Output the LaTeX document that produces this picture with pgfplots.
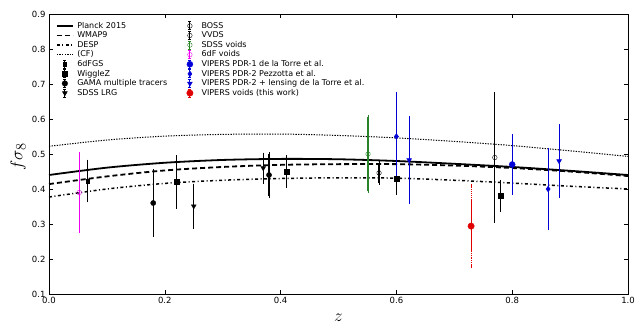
\documentclass[border=0pt]{standalone}
\usepackage{pgfplots}
\pgfplotsset{compat=1.18}
\usepackage{fontspec}
\setmainfont{DejaVu Sans}
\definecolor{vblue}{RGB}{0,0,215}
\definecolor{vgreen}{RGB}{40,130,40}
\definecolor{vmag}{RGB}{240,0,240}
\definecolor{vred}{RGB}{225,0,0}
\pgfplotsset{
  errleg/.style={legend image code/.code={
    \path (0pt,0pt) (19pt,0pt);
    \draw[solid,line width=1pt] (8pt,-4pt)--(8pt,4pt);
    \draw[solid,line width=1pt] (6.6pt,-4pt)--(9.4pt,-4pt) (6.6pt,4pt)--(9.4pt,4pt);
    \draw[solid] plot coordinates {(8pt,0pt)};
  }},
  lineleg/.style={legend image code/.code={\path (0pt,0pt) (19pt,0pt); \draw (0pt,0pt)--(16pt,0pt);}},
  ebar/.style={error bars/.cd, y dir=both, y explicit,
    error bar style={line width=1.1pt, solid},
    error mark options={line width=1pt, mark size=2.2pt, solid}},
}
\begin{document}
\begin{tikzpicture}
\begin{axis}[
  scale only axis, width=579pt, height=280pt,
  xmin=0, xmax=1, ymin=0.1, ymax=0.9,
  xtick={0,0.2,0.4,0.6,0.8,1.0},
  ytick={0.1,0.2,0.3,0.4,0.5,0.6,0.7,0.8,0.9},
  /pgf/number format/assume math mode=true,
  /pgf/number format/.cd, fixed, fixed zerofill, precision=1, /pgfplots/.cd,
  tick label style={font=\fontsize{8.5}{10}\selectfont},
  major tick length=4pt,
  tick style={black, line width=0.6pt},
  axis line style={line width=0.8pt},
  xlabel={$z$}, ylabel={$f\sigma_8$},
  every axis x label/.style={at={(axis description cs:0.5,0)}, anchor=center, yshift=-24pt, font=\fontsize{18}{20}\selectfont},
  every axis y label/.style={at={(axis description cs:0,0.5)}, rotate=90, anchor=center, yshift=31pt, xshift=-3pt, font=\fontsize{19}{21}\selectfont},
  legend columns=2,
  legend cell align=left,
  legend style={draw=none, fill=none, at={(axis description cs:0.01,0.978)}, anchor=north west,
    font=\fontsize{8}{9}\selectfont, row sep=0.6pt, inner sep=1pt,
    nodes={inner sep=0.5pt, text height=6.2pt, text depth=1.6pt},
    /tikz/column 2/.style={column sep=14pt}},
]
% legend (row-wise interleaved)
\addlegendimage{black, line width=1.8pt, lineleg}\addlegendentry{Planck 2015}
\addlegendimage{black, mark=o, mark size=2.3pt, errleg}\addlegendentry{BOSS}
\addlegendimage{black, line width=1.8pt, dash pattern=on 5pt off 3pt, lineleg}\addlegendentry{WMAP9}
\addlegendimage{black, mark=o, mark size=2.3pt, errleg}\addlegendentry{VVDS}
\addlegendimage{black, line width=1.5pt, dash pattern=on 3pt off 2.5pt on 1pt off 2.5pt, lineleg}\addlegendentry{DESP}
\addlegendimage{vgreen, mark=o, mark size=2.3pt, errleg}\addlegendentry{SDSS voids}
\addlegendimage{black, line width=1pt, dash pattern=on 1.3pt off 1.3pt, lineleg}\addlegendentry{(CF)}
\addlegendimage{vmag, mark=o, mark size=2.3pt, errleg}\addlegendentry{6dF voids}
\addlegendimage{black, mark=square*, mark size=1.8pt, errleg}\addlegendentry{6dFGS}
\addlegendimage{vblue, mark=*, mark size=3pt, errleg}\addlegendentry{VIPERS PDR-1 de la Torre et al.}
\addlegendimage{black, mark=square*, mark size=2.4pt, errleg}\addlegendentry{WiggleZ}
\addlegendimage{vblue, mark=diamond*, mark size=2.8pt, errleg}\addlegendentry{VIPERS PDR-2 Pezzotta et al.}
\addlegendimage{black, mark=*, mark size=2.8pt, errleg}\addlegendentry{GAMA multiple tracers}
\addlegendimage{vblue, mark=triangle*, mark size=2.8pt, mark options={rotate=180}, errleg}\addlegendentry{VIPERS PDR-2 + lensing de la Torre et al.}
\addlegendimage{black, mark=triangle*, mark size=2.8pt, mark options={rotate=180}, errleg}\addlegendentry{SDSS LRG}
\addlegendimage{vred, mark=*, mark size=3.2pt, errleg}\addlegendentry{VIPERS voids (this work)}

% theory curves
\addplot[forget plot, black, line width=1.8pt, smooth] coordinates {
(0,0.440)(0.1,0.461)(0.2,0.475)(0.3,0.483)(0.4,0.486)(0.5,0.485)(0.6,0.480)(0.7,0.472)(0.8,0.463)(0.9,0.452)(1.0,0.440)};
\addplot[forget plot, black, line width=1.8pt, dash pattern=on 5pt off 3pt, smooth] coordinates {
(0,0.414)(0.1,0.436)(0.2,0.453)(0.3,0.463)(0.4,0.469)(0.5,0.471)(0.6,0.471)(0.7,0.467)(0.8,0.460)(0.9,0.450)(1.0,0.437)};
\addplot[forget plot, black, line width=1.5pt, dash pattern=on 3pt off 2.5pt on 1pt off 2.5pt, smooth] coordinates {
(0,0.377)(0.1,0.400)(0.2,0.416)(0.3,0.425)(0.4,0.430)(0.5,0.432)(0.6,0.431)(0.7,0.425)(0.8,0.417)(0.9,0.408)(1.0,0.400)};
\addplot[forget plot, black, line width=1pt, dash pattern=on 1.3pt off 1.3pt, smooth] coordinates {
(0,0.522)(0.1,0.540)(0.2,0.551)(0.3,0.556)(0.4,0.557)(0.5,0.553)(0.6,0.546)(0.7,0.536)(0.8,0.524)(0.9,0.509)(1.0,0.493)};

% data
\addplot[forget plot, only marks, vmag, mark=o, mark size=2.3pt, ebar] coordinates {(0.052,0.39) +- (0,0.11)};
\addplot[forget plot, only marks, black, mark=square*, mark size=1.8pt, ebar] coordinates {(0.067,0.423) +- (0,0.055)};
\addplot[forget plot, only marks, black, mark=square*, mark size=2.4pt, ebar] coordinates {
(0.22,0.42) +- (0,0.07) (0.41,0.45) +- (0,0.04) (0.60,0.43) +- (0,0.04) (0.78,0.38) +- (0,0.04)};
\addplot[forget plot, only marks, black, mark=*, mark size=2.6pt, ebar] coordinates {
(0.18,0.36) +- (0,0.09) (0.38,0.44) +- (0,0.06)};
\addplot[forget plot, only marks, black, mark=triangle*, mark size=2.8pt, mark options={rotate=180}, ebar] coordinates {
(0.25,0.351) +- (0,0.058) (0.37,0.460) +- (0,0.038)};
\addplot[forget plot, only marks, black, mark=o, mark size=2.3pt, ebar] coordinates {(0.57,0.446) +- (0,0.028)};
\addplot[forget plot, only marks, black, mark=o, mark size=2.3pt, ebar] coordinates {(0.77,0.49) +- (0,0.18)};
\addplot[forget plot, only marks, vgreen, mark=o, mark size=2.3pt, ebar] coordinates {(0.551,0.50) +- (0,0.105)};
\addplot[forget plot, only marks, vblue, mark=*, mark size=3pt, ebar] coordinates {(0.80,0.47) +- (0,0.08)};
\addplot[forget plot, only marks, vblue, mark=diamond*, mark size=2.8pt, ebar] coordinates {
(0.60,0.55) +- (0,0.12) (0.862,0.40) +- (0,0.11)};
\addplot[forget plot, only marks, vblue, mark=triangle*, mark size=2.8pt, mark options={rotate=180}, ebar] coordinates {
(0.622,0.483) +- (0,0.12) (0.881,0.48) +- (0,0.10)};
\addplot[forget plot, only marks, mark=none, vred, error bars/.cd, y dir=both, y explicit,
  error bar style={line width=0.9pt, densely dotted},
  error mark options={line width=0.8pt, mark size=2pt, solid}] coordinates {(0.729,0.294) +- (0,0.114)};
\addplot[forget plot, only marks, vred, mark=*, mark size=3.2pt, error bars/.cd, y dir=both, y explicit,
  error bar style={line width=1.1pt, solid}, error mark=none] coordinates {(0.729,0.294) +- (0,0.075)};
\end{axis}
\pgfresetboundingbox
\path[use as bounding box] (-49pt,-33pt) rectangle (587pt,294pt);
\end{tikzpicture}
\end{document}
